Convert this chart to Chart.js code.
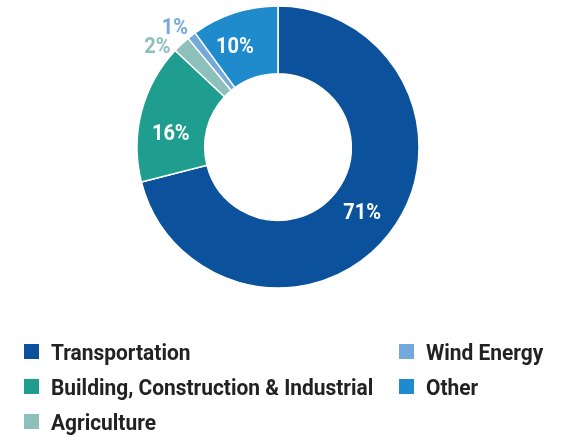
<!DOCTYPE html>
<html>
<head>
<meta charset="utf-8">
<script src="https://cdn.jsdelivr.net/npm/chart.js@4.4.0/dist/chart.umd.min.js"></script>
<style>
  html, body { margin: 0; padding: 0; background: #ffffff; }
  body { width: 563px; height: 437px; position: relative; overflow: hidden; font-family: Roboto, "Noto Sans", sans-serif; }
  #wrap { position: absolute; left: 0; top: 0; width: 563px; height: 294px; }
  #legend { position: absolute; left: 0; top: 0; width: 563px; height: 437px; }
  .item { position: absolute; display: flex; align-items: center; height: 24px; white-space: nowrap;
          font-family: Roboto, sans-serif; font-weight: 700; font-size: 22.5px; color: #222222; }
  .box { width: 15px; height: 15px; margin-right: 12px; flex: none; }
  .txt { display: inline-block; transform: scaleX(0.93); transform-origin: left center; }
</style>
</head>
<body>
<div id="wrap"><canvas id="c"></canvas></div>
<div id="legend"></div>
<script>
// ---- data ----
const categories = ["Transportation", "Building, Construction & Industrial", "Agriculture", "Wind Energy", "Other"];
const shares = [71, 16, 2, 1, 10];
const valueLabels = ["71%", "16%", "2%", "1%", "10%"];

// ---- styles ----
const colors = ["#0b519c", "#1f9e8f", "#8ec0bb", "#74a9dc", "#1f8bcd"];
const labelOutside = [false, false, true, true, false];
const labelAngleShift = [0.4, -7.5, -7.1, -3.2, -5.3];   // degrees
const labelRadius = [107, 108, 156.6, 157, 109];          // px from centre
const legendOrder = [[0, 0], [1, 0], [2, 0], [0, 1], [1, 1]]; // [row, col]

const valueLabelPlugin = {
  id: "valueLabels",
  afterDatasetsDraw(chart) {
    const ctx = chart.ctx;
    const meta = chart.getDatasetMeta(0);
    meta.data.forEach((arc, i) => {
      const p = arc.getProps(["x", "y", "startAngle", "endAngle"], true);
      const mid = (p.startAngle + p.endAngle) / 2 + labelAngleShift[i] * Math.PI / 180;
      const r = labelRadius[i];
      const x = p.x + r * Math.cos(mid);
      const y = p.y + r * Math.sin(mid);
      ctx.save();
      ctx.translate(x, y);
      ctx.scale(0.89, 1);
      ctx.font = "700 22.5px Roboto";
      ctx.textAlign = "center";
      ctx.textBaseline = "middle";
      ctx.fillStyle = labelOutside[i] ? colors[i] : "#ffffff";
      ctx.fillText(valueLabels[i], 0, 0);
      ctx.restore();
    });
  }
};

new Chart(document.getElementById("c"), {
  type: "doughnut",
  data: {
    labels: categories,
    datasets: [{
      data: shares,
      backgroundColor: colors,
      borderColor: "#ffffff",
      borderWidth: 1.5,
      hoverOffset: 0
    }]
  },
  options: {
    responsive: true,
    maintainAspectRatio: false,
    animation: false,
    radius: 141,
    cutout: "52%",
    layout: { padding: { left: 0, right: 7, top: 0, bottom: 0 } },
    plugins: {
      legend: { display: false },
      tooltip: { enabled: false }
    }
  },
  plugins: [valueLabelPlugin]
});

// ---- HTML legend ----
const legend = document.getElementById("legend");
const colLeft = [24, 399];
const rowCentre = [351.5, 386.5, 421.5];
categories.forEach((name, i) => {
  const [row, col] = legendOrder[i];
  const it = document.createElement("div");
  it.className = "item";
  it.style.left = colLeft[col] + "px";
  it.style.top = (rowCentre[row] - 12) + "px";
  const b = document.createElement("span");
  b.className = "box";
  b.style.background = colors[i];
  const t = document.createElement("span");
  t.className = "txt";
  t.textContent = name;
  it.appendChild(b);
  it.appendChild(t);
  legend.appendChild(it);
});
</script>
</body>
</html>
